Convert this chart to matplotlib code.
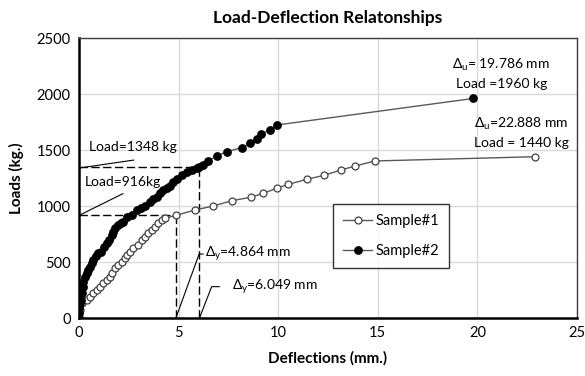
import matplotlib
matplotlib.use("Agg")
import matplotlib.pyplot as plt

plt.rcParams['font.family'] = ['Lato', 'DejaVu Sans']
plt.rcParams['mathtext.default'] = 'regular'

# Sample#1 (open circles)
s1_x = [0, 0.05, 0.13, 0.38, 0.55, 0.72, 0.89, 1.05, 1.22, 1.39, 1.56, 1.64, 1.81, 1.97,
        2.14, 2.31, 2.39, 2.56, 2.73, 2.98, 3.14, 3.31, 3.48, 3.65, 3.82, 3.98, 4.15,
        4.32, 4.864, 5.82, 6.74, 7.67, 8.62, 9.25, 9.92, 10.51, 11.43, 12.30, 13.15,
        13.86, 14.86, 22.888]
s1_y = [0, 70, 131, 161, 190, 220, 250, 280, 315, 339, 369, 399, 443, 473,
        503, 533, 562, 592, 622, 652, 696, 726, 756, 786, 815, 845, 875,
        890, 916, 964, 1000, 1047, 1078, 1113, 1158, 1194, 1238, 1274, 1321,
        1357, 1402, 1440]

# Sample#2 (filled circles)
s2_x = [0, 0, 0.02, 0.05, 0.08, 0.13, 0.18, 0.22, 0.30, 0.38, 0.47, 0.55, 0.63, 0.72,
        0.85, 0.97, 1.10, 1.25, 1.39, 1.50, 1.64, 1.72, 1.81, 1.97, 2.10, 2.22, 2.39,
        2.64, 2.89, 3.10, 3.31, 3.56, 3.73, 3.90, 4.07, 4.23, 4.40, 4.56, 4.73, 4.90,
        5.15, 5.40, 5.65, 5.90, 6.049, 6.20, 6.49, 6.91, 7.41, 8.17, 8.58, 8.92, 9.12,
        9.59, 9.92, 19.786]
s2_y = [0, 42, 86, 130, 161, 220, 280, 324, 369, 399, 430, 458, 490, 518,
        550, 577, 592, 630, 667, 700, 741, 770, 801, 830, 845, 860, 905,
        920, 964, 985, 1000, 1039, 1060, 1083, 1115, 1143, 1160, 1179, 1210, 1238,
        1277, 1307, 1320, 1336, 1348, 1366, 1405, 1446, 1485, 1521, 1560, 1596, 1640,
        1679, 1723, 1960]

# Yield / ultimate values
dy1, load1 = 4.864, 916
dy2, load2 = 6.049, 1348
du1, loadu1 = 22.888, 1440
du2, loadu2 = 19.786, 1960

x_ticks = [0, 5, 10, 15, 20, 25]
y_ticks = [0, 500, 1000, 1500, 2000, 2500]

fig = plt.figure(figsize=(5.85, 3.76), dpi=100)
ax = fig.add_axes([79/585, 1-318/376, (577-79)/585, (318-38)/376])

ax.set_xlim(0, 25)
ax.set_ylim(0, 2500)
ax.set_xticks(x_ticks)
ax.set_yticks(y_ticks)
ax.grid(True, color='#d9d9d9', lw=1)
ax.set_axisbelow(True)
ax.tick_params(length=0, labelsize=10.5, pad=6)
for s in ax.spines.values():
    s.set_color('#404040')
    s.set_linewidth(1.0)
ax.spines['left'].set_color('black')
ax.spines['left'].set_linewidth(1.8)
ax.spines['bottom'].set_color('black')
ax.spines['bottom'].set_linewidth(1.8)

# dashed guide lines
dash = dict(color='black', lw=1, dashes=(6, 2.5))
ax.plot([0, dy1], [load1, load1], **dash)
ax.plot([dy1, dy1], [0, load1], **dash)
ax.plot([0, dy2], [load2, load2], **dash)
ax.plot([dy2, dy2], [0, load2], **dash)

ax.plot(s1_x, s1_y, color='#595959', lw=1, marker='o', ms=5, mfc='white',
        mec='#404040', mew=0.9, label='Sample#1', zorder=3)
ax.plot(s2_x, s2_y, color='#595959', lw=1, marker='o', ms=5.3, mfc='black',
        mec='black', label='Sample#2', zorder=4)

# leader lines and labels
lk = dict(color='black', lw=0.8)
ax.plot([0.05, 2.75], [1340, 1410], **lk)
ax.text(0.5, 1530, 'Load=1348 kg', fontsize=10, va='center', ha='left')
ax.plot([0.05, 2.2], [920, 1110], **lk)
ax.text(0.3, 1210, 'Load=916kg', fontsize=10, va='center', ha='left')

ax.plot([dy1, 6.03, 6.23], [0, 571, 571], **lk)
ax.text(6.35, 571, 'Δ$_{y}$=4.864 mm', fontsize=10, va='center', ha='left')
ax.plot([dy2, 6.66, 7.04], [0, 280, 280], **lk)
ax.text(7.7, 280, 'Δ$_{y}$=6.049 mm', fontsize=10, va='center', ha='left')

ax.text(21.2, 2185, 'Δ$_{u}$= 19.786 mm\nLoad =1960 kg', fontsize=10,
        va='center', ha='center', linespacing=1.5)
ax.text(22.2, 1660, 'Δ$_{u}$=22.888 mm\nLoad = 1440 kg', fontsize=10,
        va='center', ha='center', linespacing=1.5)

leg = ax.legend(loc='upper left', bbox_to_anchor=((333-79)/498, 1-(204-38)/280),
                fontsize=10.5, frameon=True, fancybox=False, handlelength=2.0,
                borderpad=0.7, labelspacing=1.1, handletextpad=0.2,
                borderaxespad=0)
leg.get_frame().set_edgecolor('black')
leg.get_frame().set_linewidth(1)

ax.set_title('Load-Deflection Relatonships', fontsize=12.5, fontweight='bold', pad=11)
ax.set_xlabel('Deflections (mm.)', fontsize=11, fontweight='bold', labelpad=8)
ax.set_ylabel('Loads (kg.)', fontsize=11, fontweight='bold', labelpad=9)

fig.savefig('out.png', dpi=100)
